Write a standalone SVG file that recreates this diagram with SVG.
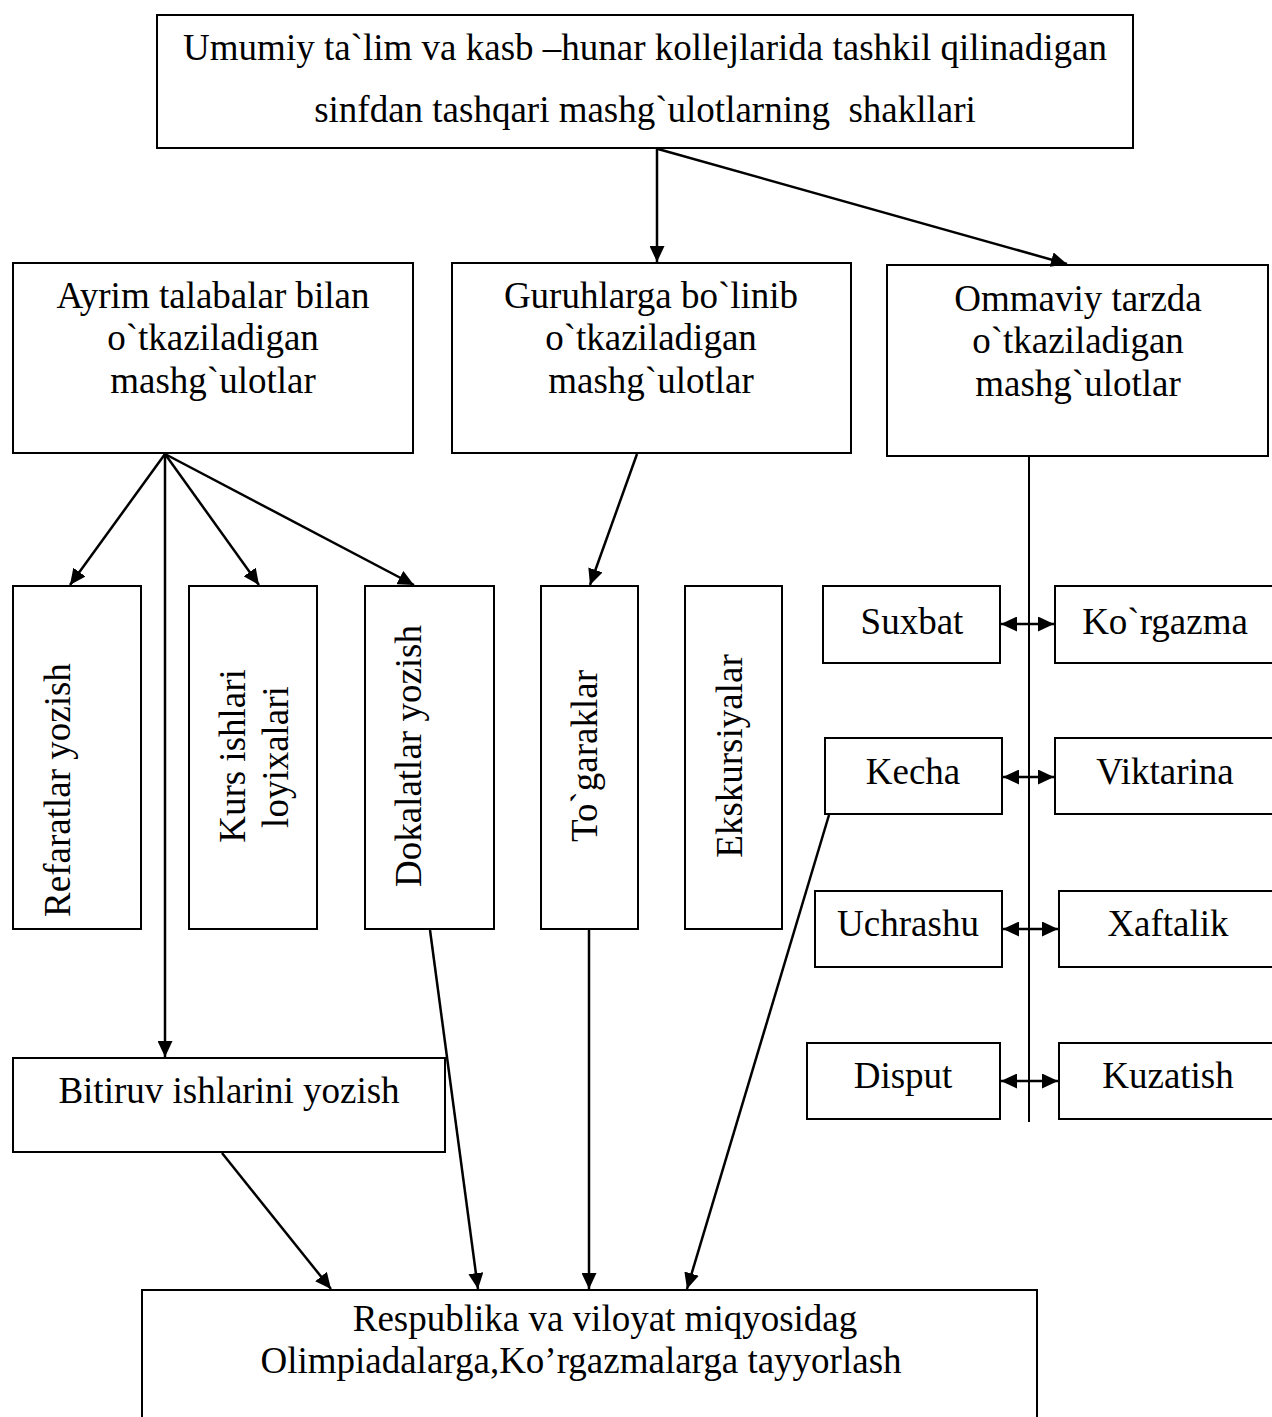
<svg xmlns="http://www.w3.org/2000/svg" width="1272" height="1417" viewBox="0 0 1272 1417">
<defs>
<marker id="ah" viewBox="0 0 14 13" refX="14" refY="6.5" markerWidth="6.4" markerHeight="6" markerUnits="strokeWidth" orient="auto-start-reverse" preserveAspectRatio="none">
<path d="M0,0 L14,6.5 L0,13 z" fill="#000"/>
</marker>
</defs>
<style>
.b{fill:#fff;stroke:#000;stroke-width:2}
.t{font-family:"Liberation Serif","Times New Roman",serif;font-size:37px;fill:#000;text-anchor:middle}
.c{stroke:#000;stroke-width:2.5;fill:none}
.a{marker-end:url(#ah)}
.d{marker-start:url(#ah);marker-end:url(#ah)}
</style>
<rect width="1272" height="1417" fill="#fff"/>
<g id="top">
<rect class="b" x="157" y="15" width="976" height="133"/>
<text class="t" x="645" y="60">Umumiy ta`lim va kasb –hunar kollejlarida tashkil qilinadigan</text>
<text class="t" x="645" y="122" xml:space="preserve">sinfdan tashqari mashg`ulotlarning  shakllari</text>
</g>
<g id="ayrim">
<rect class="b" x="13" y="263" width="400" height="190"/>
<text class="t" x="213" y="308">Ayrim talabalar bilan</text>
<text class="t" x="213" y="350">o`tkaziladigan</text>
<text class="t" x="213" y="393">mashg`ulotlar</text>
</g>
<g id="guruh">
<rect class="b" x="452" y="263" width="399" height="190"/>
<text class="t" x="651" y="308">Guruhlarga bo`linib</text>
<text class="t" x="651" y="350">o`tkaziladigan</text>
<text class="t" x="651" y="393">mashg`ulotlar</text>
</g>
<g id="ommaviy">
<rect class="b" x="887" y="265" width="381" height="191"/>
<text class="t" x="1078" y="311">Ommaviy tarzda</text>
<text class="t" x="1078" y="353">o`tkaziladigan</text>
<text class="t" x="1078" y="396">mashg`ulotlar</text>
</g>
<g id="refaratlar">
<rect class="b" x="13" y="586" width="128" height="343"/>
<text class="t" transform="translate(70,790) rotate(-90)">Refaratlar yozish</text>
</g>
<g id="kurs">
<rect class="b" x="189" y="586" width="128" height="343"/>
<text class="t" transform="translate(245,756) rotate(-90)">Kurs ishlari</text>
<text class="t" transform="translate(288,757) rotate(-90)">loyixalari</text>
</g>
<g id="dokalatlar">
<rect class="b" x="365" y="586" width="129" height="343"/>
<text class="t" transform="translate(421,756) rotate(-90)">Dokalatlar yozish</text>
</g>
<g id="togaraklar">
<rect class="b" x="541" y="586" width="97" height="343"/>
<text class="t" transform="translate(597,756) rotate(-90)">To`garaklar</text>
</g>
<g id="ekskursiyalar">
<rect class="b" x="685" y="586" width="97" height="343"/>
<text class="t" transform="translate(742,756) rotate(-90)">Ekskursiyalar</text>
</g>
<g id="suxbat"><rect class="b" x="823" y="586" width="177" height="77"/><text class="t" x="912" y="634">Suxbat</text></g>
<g id="korgazma"><rect class="b" x="1055" y="586" width="230" height="77"/><text class="t" x="1165" y="634">Ko`rgazma</text></g>
<g id="kecha"><rect class="b" x="825" y="738" width="177" height="76"/><text class="t" x="913" y="784">Kecha</text></g>
<g id="viktarina"><rect class="b" x="1055" y="738" width="230" height="76"/><text class="t" x="1165" y="784">Viktarina</text></g>
<g id="uchrashu"><rect class="b" x="815" y="891" width="187" height="76"/><text class="t" x="908" y="936">Uchrashu</text></g>
<g id="xaftalik"><rect class="b" x="1059" y="891" width="230" height="76"/><text class="t" x="1168" y="936">Xaftalik</text></g>
<g id="disput"><rect class="b" x="807" y="1043" width="193" height="76"/><text class="t" x="903" y="1088">Disput</text></g>
<g id="kuzatish"><rect class="b" x="1059" y="1043" width="230" height="76"/><text class="t" x="1168" y="1088">Kuzatish</text></g>
<g id="bitiruv">
<rect class="b" x="13" y="1058" width="432" height="94"/>
<text class="t" x="229" y="1103">Bitiruv ishlarini yozish</text>
</g>
<g id="respublika">
<rect class="b" x="142" y="1290" width="895" height="140"/>
<text class="t" x="605" y="1331">Respublika va viloyat miqyosidag</text>
<text class="t" x="581" y="1373">Olimpiadalarga,Ko’rgazmalarga tayyorlash</text>
</g>
<g id="connectors">
<line class="c a" x1="657" y1="149" x2="657" y2="262"/>
<line class="c a" x1="658" y1="149" x2="1067" y2="264"/>
<line class="c a" x1="165" y1="454" x2="70" y2="585"/>
<line class="c a" x1="165" y1="454" x2="259" y2="585"/>
<line class="c a" x1="165" y1="454" x2="414" y2="585"/>
<line class="c a" x1="165" y1="454" x2="165" y2="1057"/>
<line class="c a" x1="637" y1="454" x2="590" y2="585"/>
<line class="c" x1="1029" y1="456" x2="1029" y2="1122" style="stroke-width:2"/>
<line class="c d" x1="1001" y1="624" x2="1054" y2="624"/>
<line class="c d" x1="1003" y1="777" x2="1054" y2="777"/>
<line class="c d" x1="1003" y1="929" x2="1058" y2="929"/>
<line class="c d" x1="1001" y1="1081" x2="1058" y2="1081"/>
<line class="c a" x1="222" y1="1153" x2="331" y2="1289"/>
<line class="c a" x1="430" y1="930" x2="478" y2="1289"/>
<line class="c a" x1="589" y1="930" x2="589" y2="1289"/>
<line class="c a" x1="829" y1="815" x2="687" y2="1289"/>
</g>
</svg>
